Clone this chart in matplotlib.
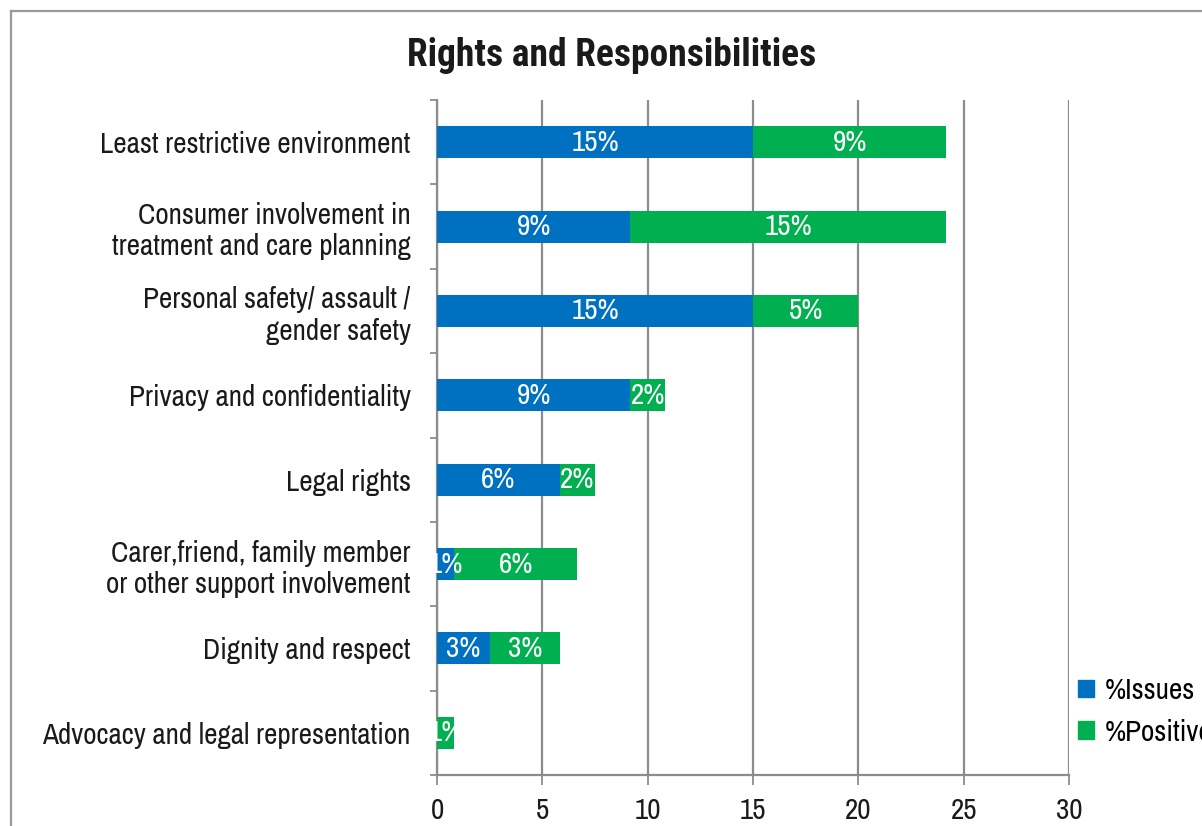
import matplotlib
matplotlib.use("Agg")
import matplotlib.pyplot as plt
from matplotlib.lines import Line2D
from matplotlib.patches import Patch
import numpy as np

plt.rcParams['font.family'] = ['Archivo Narrow', 'Roboto Condensed', 'DejaVu Sans']

# Topics, listed top to bottom
categories = [
    "Least restrictive environment",
    "Consumer involvement in\ntreatment and care planning",
    "Personal safety/ assault /\ngender safety",
    "Privacy and confidentiality",
    "Legal rights",
    "Carer,friend, family member\nor other support involvement",
    "Dignity and respect",
    "Advocacy and legal representation",
]
# Share of feedback (%) by type
issues = [15.0, 9.17, 15.0, 9.17, 5.83, 0.83, 2.5, 0.0]
positive = [9.17, 15.0, 5.0, 1.67, 1.67, 5.83, 3.33, 0.83]
series_names = ["%Issues", "%Positive"]
x_ticks = [0, 5, 10, 15, 20, 25, 30]

BLUE = "#0070C0"
GREEN = "#00B050"
GRID = "#8C8C8C"
TEXT = "#1a1a1a"

W, H = 1202, 826
fig = plt.figure(figsize=(W / 100, H / 100), dpi=100)
ax = fig.add_axes([437 / W, 1 - 775 / H, (1069 - 437) / W, (775 - 100) / H])

n = len(categories)
y = np.arange(n)
bar_h = 0.38

b1 = ax.barh(y, issues, height=bar_h, color=BLUE, zorder=3)
b2 = ax.barh(y, positive, left=issues, height=bar_h, color=GREEN, zorder=3)


def pct(v):
    return f"{int(np.floor(v + 0.5))}%"


for bars, vals, lefts in ((b1, issues, [0] * n), (b2, positive, issues)):
    for rect, v, l in zip(bars, vals, lefts):
        if v <= 0:
            continue
        t = ax.text(l + v / 2, rect.get_y() + bar_h / 2, pct(v), color="white",
                    ha="center", va="center", fontsize=21, zorder=4)
        t.set_clip_path(rect)

ax.set_xlim(0, 30)
ax.set_ylim(n - 0.5, -0.5)

ax.set_xticks(x_ticks)
ax.set_xticklabels([str(t) for t in x_ticks], fontsize=21, color=TEXT)
ax.xaxis.grid(True, color=GRID, linewidth=1.6, zorder=0)
ax.tick_params(axis="x", direction="out", length=7, width=1.3, color=GRID, pad=9)

ax.set_yticks(y)
ax.set_yticklabels(categories, fontsize=21, color=TEXT, linespacing=1.2)
ax.set_yticks(np.arange(n + 1) - 0.5, minor=True)
ax.tick_params(axis="y", which="major", length=0, pad=19)
ax.tick_params(axis="y", which="minor", direction="out", length=5, width=1.3, color=GRID)

for side in ("top", "right"):
    ax.spines[side].set_visible(False)
for side in ("left", "bottom"):
    ax.spines[side].set_color(GRID)
    ax.spines[side].set_linewidth(1.6)

fig.text(612 / W, 1 - 56 / H, "Rights and Responsibilities", ha="center", va="center",
         fontsize=27, fontweight="bold", color=TEXT,
         family=['Roboto Condensed', 'DejaVu Sans'])

handles = [Patch(color=BLUE), Patch(color=GREEN)]
fig.legend(handles, series_names, loc="upper left",
           bbox_to_anchor=(1078 / W, 1 - 677 / H), frameon=False, fontsize=21,
           handlelength=0.55, handleheight=0.55, handletextpad=0.35, labelspacing=0.5,
           borderpad=0, borderaxespad=0)

# outer chart border
fig.add_artist(Line2D([11 / W, 11 / W], [0, 1 - 11 / H], transform=fig.transFigure,
                      color="#9A9A9A", linewidth=1.6))
fig.add_artist(Line2D([11 / W, 1], [1 - 11 / H, 1 - 11 / H], transform=fig.transFigure,
                      color="#9A9A9A", linewidth=1.6))

fig.savefig("out.png", dpi=100)
